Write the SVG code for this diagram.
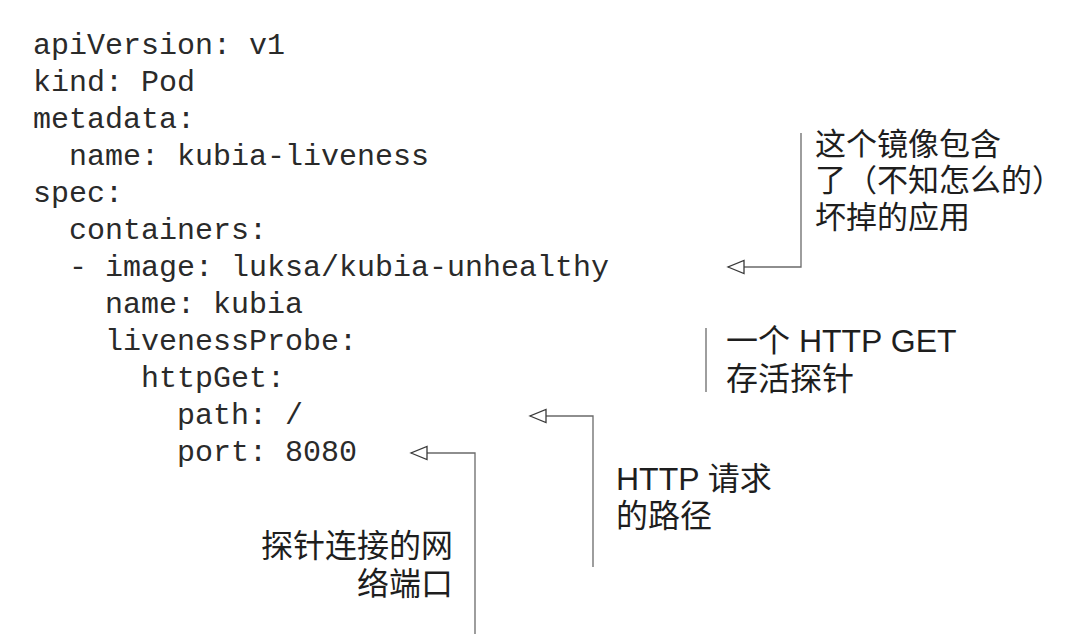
<svg xmlns="http://www.w3.org/2000/svg" width="1066" height="634" viewBox="0 0 1066 634">
<style>
.code{font-family:"Liberation Mono","DejaVu Sans Mono",monospace;font-size:30px;fill:#2a2a2a;}
.note{font-family:"Liberation Sans","Noto Sans CJK SC",sans-serif;font-size:32px;fill:#1e1e1e;}
.note-top{font-size:31px;}
.line{fill:none;stroke:#6a6a6a;stroke-width:1.3;}
</style>
<defs>
<marker id="tri" markerWidth="20" markerHeight="18" refX="17" refY="8" orient="auto" markerUnits="userSpaceOnUse">
<path d="M17,8 L1,1.5 L1,14.5 Z" fill="#fff" stroke="#3a3a3a" stroke-width="1.3"/>
</marker>
</defs>
<rect width="1066" height="634" fill="#fff"/>
<g id="yaml">
<text class="code" x="33" y="54">apiVersion: v1</text>
<text class="code" x="33" y="91">kind: Pod</text>
<text class="code" x="33" y="128">metadata:</text>
<text class="code" x="69" y="165">name: kubia-liveness</text>
<text class="code" x="33" y="202">spec:</text>
<text class="code" x="69" y="239">containers:</text>
<text class="code" x="69" y="276">- image: luksa/kubia-unhealthy</text>
<text class="code" x="105" y="313">name: kubia</text>
<text class="code" x="105" y="350">livenessProbe:</text>
<text class="code" x="141" y="387">httpGet:</text>
<text class="code" x="177" y="424">path: /</text>
<text class="code" x="177" y="461">port: 8080</text>
</g>
<g id="connectors">
<path class="line" d="M801,133 V267 H728" marker-end="url(#tri)"/>
<path class="line" d="M706,328 V392"/>
<path class="line" d="M593,567 V416 H530" marker-end="url(#tri)"/>
<path class="line" d="M475,634 V453 H411" marker-end="url(#tri)"/>
</g>
<g id="note-image">
<text class="note note-top" x="815" y="155">这个镜像包含</text>
<text class="note note-top" x="815" y="191">了（不知怎么的）</text>
<text class="note note-top" x="815" y="228">坏掉的应用</text>
</g>
<g id="note-probe">
<text class="note" x="726" y="352">一个 HTTP GET</text>
<text class="note" x="726" y="390">存活探针</text>
</g>
<g id="note-path">
<text class="note" x="616" y="490">HTTP 请求</text>
<text class="note" x="616" y="527">的路径</text>
</g>
<g id="note-port">
<text class="note" x="453" y="557" text-anchor="end">探针连接的网</text>
<text class="note" x="453" y="595" text-anchor="end">络端口</text>
</g>
</svg>
